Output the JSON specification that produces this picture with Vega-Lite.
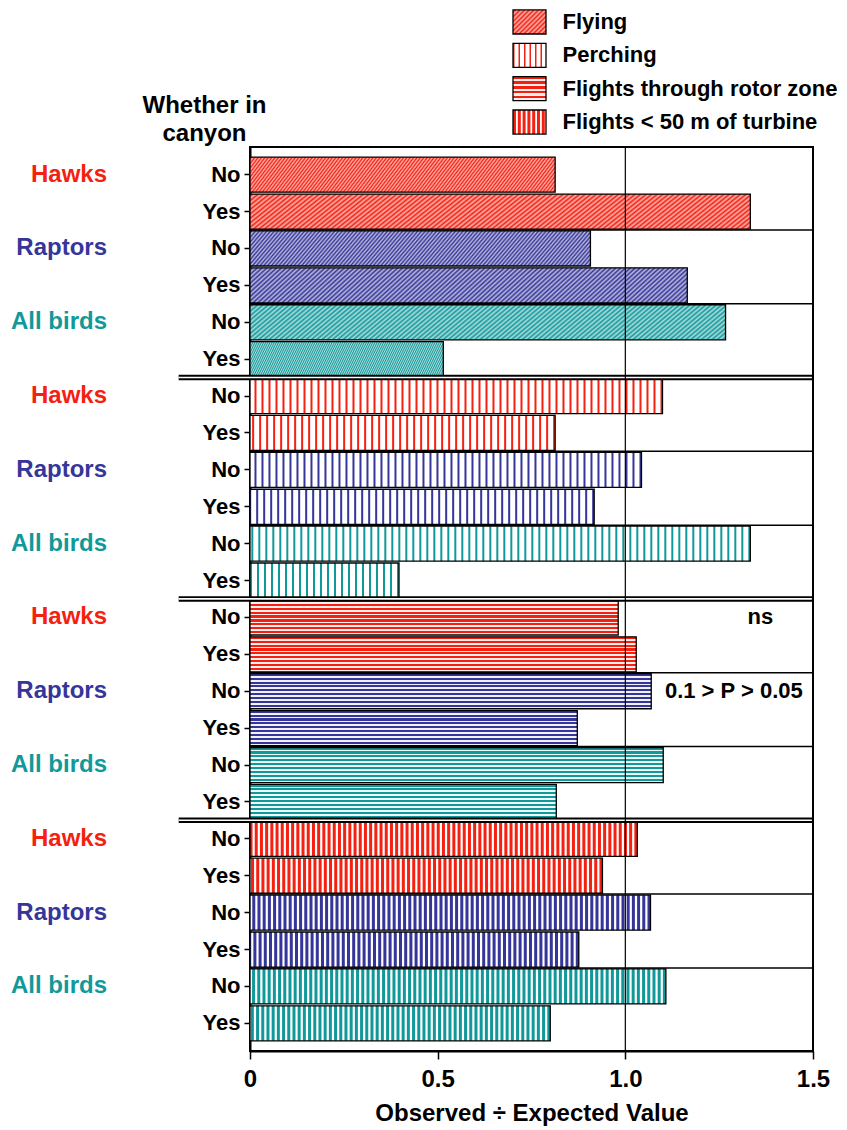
{
"$schema":"https://vega.github.io/schema/vega-lite/v6.json",
"width":563,"height":904,
"autosize":{"type":"none"},
"padding":{"left":250,"top":147,"right":34,"bottom":79},
"config":{"font":"Liberation Sans","view":{"stroke":"black","strokeWidth":2},"axis":{"grid":false}},
"datasets":{
"bars":[
{"key":"01|Hawks|No","beh":"F","group":"Hawks","canyon":"No","value":0.813},
{"key":"02|Hawks|Yes","beh":"F","group":"Hawks","canyon":"Yes","value":1.333},
{"key":"03|Raptors|No","beh":"F","group":"Raptors","canyon":"No","value":0.907},
{"key":"04|Raptors|Yes","beh":"F","group":"Raptors","canyon":"Yes","value":1.165},
{"key":"05|All birds|No","beh":"F","group":"All birds","canyon":"No","value":1.267},
{"key":"06|All birds|Yes","beh":"F","group":"All birds","canyon":"Yes","value":0.515},
{"key":"07|Hawks|No","beh":"P","group":"Hawks","canyon":"No","value":1.099},
{"key":"08|Hawks|Yes","beh":"P","group":"Hawks","canyon":"Yes","value":0.813},
{"key":"09|Raptors|No","beh":"P","group":"Raptors","canyon":"No","value":1.043},
{"key":"10|Raptors|Yes","beh":"P","group":"Raptors","canyon":"Yes","value":0.917},
{"key":"11|All birds|No","beh":"P","group":"All birds","canyon":"No","value":1.333},
{"key":"12|All birds|Yes","beh":"P","group":"All birds","canyon":"Yes","value":0.397},
{"key":"13|Hawks|No","beh":"R","group":"Hawks","canyon":"No","value":0.981},
{"key":"14|Hawks|Yes","beh":"R","group":"Hawks","canyon":"Yes","value":1.029},
{"key":"15|Raptors|No","beh":"R","group":"Raptors","canyon":"No","value":1.069},
{"key":"16|Raptors|Yes","beh":"R","group":"Raptors","canyon":"Yes","value":0.872},
{"key":"17|All birds|No","beh":"R","group":"All birds","canyon":"No","value":1.101},
{"key":"18|All birds|Yes","beh":"R","group":"All birds","canyon":"Yes","value":0.816},
{"key":"19|Hawks|No","beh":"T","group":"Hawks","canyon":"No","value":1.032},
{"key":"20|Hawks|Yes","beh":"T","group":"Hawks","canyon":"Yes","value":0.939},
{"key":"21|Raptors|No","beh":"T","group":"Raptors","canyon":"No","value":1.067},
{"key":"22|Raptors|Yes","beh":"T","group":"Raptors","canyon":"Yes","value":0.876},
{"key":"23|All birds|No","beh":"T","group":"All birds","canyon":"No","value":1.108},
{"key":"24|All birds|Yes","beh":"T","group":"All birds","canyon":"Yes","value":0.8}
],
"seps":[
{"key":"03|Raptors|No","kind":"single"},{"key":"05|All birds|No","kind":"single"},
{"key":"09|Raptors|No","kind":"single"},{"key":"11|All birds|No","kind":"single"},
{"key":"15|Raptors|No","kind":"single"},{"key":"17|All birds|No","kind":"single"},
{"key":"21|Raptors|No","kind":"single"},{"key":"23|All birds|No","kind":"single"},
{"key":"07|Hawks|No","kind":"double"},{"key":"13|Hawks|No","kind":"double"},{"key":"19|Hawks|No","kind":"double"}
],
"notes":[
{"key":"13|Hawks|No","x":1.36,"label":"ns"},
{"key":"15|Raptors|No","x":1.289,"label":"0.1 > P > 0.05"}
],
"legend":[
{"code":"F","label":"Flying"},
{"code":"P","label":"Perching"},
{"code":"R","label":"Flights through rotor zone"},
{"code":"T","label":"Flights < 50 m of turbine"}
]
},
"resolve":{"scale":{"x":"independent","y":"independent"}},
"layer":[
{
"layer":[
{"data":{"name":"bars"},"mark":{"type":"bar"},
"encoding":{
"y":{"field":"key","type":"nominal","scale":{"paddingInner":0.05,"paddingOuter":0.275},
"axis":{"title":["Whether in","canyon"],"titleAngle":0,"titleAlign":"center","titleBaseline":"alphabetic","titleX":-46,"titleY":-35,"titleFontSize":24,"titleFontWeight":"bold","titleLineHeight":28,"titleColor":"black",
"labelExpr":"split(datum.value,'|')[2]","labelFontSize":22,"labelFontWeight":"bold","labelColor":"black","labelPadding":4,"tickSize":6,"tickColor":"black","tickWidth":1.5,"domainColor":"black","domainWidth":2}},
"x":{"field":"value","type":"quantitative","scale":{"domain":[0,1.5],"nice":false},
"axis":{"title":"Observed ÷ Expected Value","values":[0,0.5,1,1.5],"labelExpr":"datum.value==0?'0':format(datum.value,'.1f')","labelFontSize":24,"labelFontWeight":"bold","labelColor":"black","labelPadding":8,"labelFlush":false,"labelOverlap":false,"tickSize":8,"tickColor":"black","tickWidth":1.5,"domainColor":"black","domainWidth":2,"titleFontSize":24,"titleFontWeight":"bold","titleColor":"black","titlePadding":10}},
"fill":{"condition":{"test":"datum.beh=='P'||datum.beh=='T'","value":"white"},"field":"group","type":"nominal","scale":{"domain":["Hawks","Raptors","All birds"],"range":["#f52010","#35359a","#11999a"]},"legend":null}
}},
{"data":{"name":"bars"},"transform":[{"filter":"datum.beh=='F'"}],
"mark":{"type":"bar","fill":{"gradient":"linear","x1":0,"y1":0,"x2":1.1,"y2":0.09625,"stops":[
{"offset":0,"color":"#fffa"},{"offset":0.005,"color":"#fff0"},{"offset":0.01,"color":"#fffa"},{"offset":0.015,"color":"#fff0"},{"offset":0.02,"color":"#fffa"},{"offset":0.025,"color":"#fff0"},{"offset":0.03,"color":"#fffa"},{"offset":0.035,"color":"#fff0"},{"offset":0.04,"color":"#fffa"},{"offset":0.045,"color":"#fff0"},
{"offset":0.05,"color":"#fffa"},{"offset":0.055,"color":"#fff0"},{"offset":0.06,"color":"#fffa"},{"offset":0.065,"color":"#fff0"},{"offset":0.07,"color":"#fffa"},{"offset":0.075,"color":"#fff0"},{"offset":0.08,"color":"#fffa"},{"offset":0.085,"color":"#fff0"},{"offset":0.09,"color":"#fffa"},{"offset":0.095,"color":"#fff0"},
{"offset":0.1,"color":"#fffa"},{"offset":0.105,"color":"#fff0"},{"offset":0.11,"color":"#fffa"},{"offset":0.115,"color":"#fff0"},{"offset":0.12,"color":"#fffa"},{"offset":0.125,"color":"#fff0"},{"offset":0.13,"color":"#fffa"},{"offset":0.135,"color":"#fff0"},{"offset":0.14,"color":"#fffa"},{"offset":0.145,"color":"#fff0"},
{"offset":0.15,"color":"#fffa"},{"offset":0.155,"color":"#fff0"},{"offset":0.16,"color":"#fffa"},{"offset":0.165,"color":"#fff0"},{"offset":0.17,"color":"#fffa"},{"offset":0.175,"color":"#fff0"},{"offset":0.18,"color":"#fffa"},{"offset":0.185,"color":"#fff0"},{"offset":0.19,"color":"#fffa"},{"offset":0.195,"color":"#fff0"},
{"offset":0.2,"color":"#fffa"},{"offset":0.205,"color":"#fff0"},{"offset":0.21,"color":"#fffa"},{"offset":0.215,"color":"#fff0"},{"offset":0.22,"color":"#fffa"},{"offset":0.225,"color":"#fff0"},{"offset":0.23,"color":"#fffa"},{"offset":0.235,"color":"#fff0"},{"offset":0.24,"color":"#fffa"},{"offset":0.245,"color":"#fff0"},
{"offset":0.25,"color":"#fffa"},{"offset":0.255,"color":"#fff0"},{"offset":0.26,"color":"#fffa"},{"offset":0.265,"color":"#fff0"},{"offset":0.27,"color":"#fffa"},{"offset":0.275,"color":"#fff0"},{"offset":0.28,"color":"#fffa"},{"offset":0.285,"color":"#fff0"},{"offset":0.29,"color":"#fffa"},{"offset":0.295,"color":"#fff0"},
{"offset":0.3,"color":"#fffa"},{"offset":0.305,"color":"#fff0"},{"offset":0.31,"color":"#fffa"},{"offset":0.315,"color":"#fff0"},{"offset":0.32,"color":"#fffa"},{"offset":0.325,"color":"#fff0"},{"offset":0.33,"color":"#fffa"},{"offset":0.335,"color":"#fff0"},{"offset":0.34,"color":"#fffa"},{"offset":0.345,"color":"#fff0"},
{"offset":0.35,"color":"#fffa"},{"offset":0.355,"color":"#fff0"},{"offset":0.36,"color":"#fffa"},{"offset":0.365,"color":"#fff0"},{"offset":0.37,"color":"#fffa"},{"offset":0.375,"color":"#fff0"},{"offset":0.38,"color":"#fffa"},{"offset":0.385,"color":"#fff0"},{"offset":0.39,"color":"#fffa"},{"offset":0.395,"color":"#fff0"},
{"offset":0.4,"color":"#fffa"},{"offset":0.405,"color":"#fff0"},{"offset":0.41,"color":"#fffa"},{"offset":0.415,"color":"#fff0"},{"offset":0.42,"color":"#fffa"},{"offset":0.425,"color":"#fff0"},{"offset":0.43,"color":"#fffa"},{"offset":0.435,"color":"#fff0"},{"offset":0.44,"color":"#fffa"},{"offset":0.445,"color":"#fff0"},
{"offset":0.45,"color":"#fffa"},{"offset":0.455,"color":"#fff0"},{"offset":0.46,"color":"#fffa"},{"offset":0.465,"color":"#fff0"},{"offset":0.47,"color":"#fffa"},{"offset":0.475,"color":"#fff0"},{"offset":0.48,"color":"#fffa"},{"offset":0.485,"color":"#fff0"},{"offset":0.49,"color":"#fffa"},{"offset":0.495,"color":"#fff0"},
{"offset":0.5,"color":"#fffa"},{"offset":0.505,"color":"#fff0"},{"offset":0.51,"color":"#fffa"},{"offset":0.515,"color":"#fff0"},{"offset":0.52,"color":"#fffa"},{"offset":0.525,"color":"#fff0"},{"offset":0.53,"color":"#fffa"},{"offset":0.535,"color":"#fff0"},{"offset":0.54,"color":"#fffa"},{"offset":0.545,"color":"#fff0"},
{"offset":0.55,"color":"#fffa"},{"offset":0.555,"color":"#fff0"},{"offset":0.56,"color":"#fffa"},{"offset":0.565,"color":"#fff0"},{"offset":0.57,"color":"#fffa"},{"offset":0.575,"color":"#fff0"},{"offset":0.58,"color":"#fffa"},{"offset":0.585,"color":"#fff0"},{"offset":0.59,"color":"#fffa"},{"offset":0.595,"color":"#fff0"},
{"offset":0.6,"color":"#fffa"},{"offset":0.605,"color":"#fff0"},{"offset":0.61,"color":"#fffa"},{"offset":0.615,"color":"#fff0"},{"offset":0.62,"color":"#fffa"},{"offset":0.625,"color":"#fff0"},{"offset":0.63,"color":"#fffa"},{"offset":0.635,"color":"#fff0"},{"offset":0.64,"color":"#fffa"},{"offset":0.645,"color":"#fff0"},
{"offset":0.65,"color":"#fffa"},{"offset":0.655,"color":"#fff0"},{"offset":0.66,"color":"#fffa"},{"offset":0.665,"color":"#fff0"},{"offset":0.67,"color":"#fffa"},{"offset":0.675,"color":"#fff0"},{"offset":0.68,"color":"#fffa"},{"offset":0.685,"color":"#fff0"},{"offset":0.69,"color":"#fffa"},{"offset":0.695,"color":"#fff0"},
{"offset":0.7,"color":"#fffa"},{"offset":0.705,"color":"#fff0"},{"offset":0.71,"color":"#fffa"},{"offset":0.715,"color":"#fff0"},{"offset":0.72,"color":"#fffa"},{"offset":0.725,"color":"#fff0"},{"offset":0.73,"color":"#fffa"},{"offset":0.735,"color":"#fff0"},{"offset":0.74,"color":"#fffa"},{"offset":0.745,"color":"#fff0"},
{"offset":0.75,"color":"#fffa"},{"offset":0.755,"color":"#fff0"},{"offset":0.76,"color":"#fffa"},{"offset":0.765,"color":"#fff0"},{"offset":0.77,"color":"#fffa"},{"offset":0.775,"color":"#fff0"},{"offset":0.78,"color":"#fffa"},{"offset":0.785,"color":"#fff0"},{"offset":0.79,"color":"#fffa"},{"offset":0.795,"color":"#fff0"},
{"offset":0.8,"color":"#fffa"},{"offset":0.805,"color":"#fff0"},{"offset":0.81,"color":"#fffa"},{"offset":0.815,"color":"#fff0"},{"offset":0.82,"color":"#fffa"},{"offset":0.825,"color":"#fff0"},{"offset":0.83,"color":"#fffa"},{"offset":0.835,"color":"#fff0"},{"offset":0.84,"color":"#fffa"},{"offset":0.845,"color":"#fff0"},
{"offset":0.85,"color":"#fffa"},{"offset":0.855,"color":"#fff0"},{"offset":0.86,"color":"#fffa"},{"offset":0.865,"color":"#fff0"},{"offset":0.87,"color":"#fffa"},{"offset":0.875,"color":"#fff0"},{"offset":0.88,"color":"#fffa"},{"offset":0.885,"color":"#fff0"},{"offset":0.89,"color":"#fffa"},{"offset":0.895,"color":"#fff0"},
{"offset":0.9,"color":"#fffa"},{"offset":0.905,"color":"#fff0"},{"offset":0.91,"color":"#fffa"},{"offset":0.915,"color":"#fff0"},{"offset":0.92,"color":"#fffa"},{"offset":0.925,"color":"#fff0"},{"offset":0.93,"color":"#fffa"},{"offset":0.935,"color":"#fff0"},{"offset":0.94,"color":"#fffa"},{"offset":0.945,"color":"#fff0"},
{"offset":0.95,"color":"#fffa"},{"offset":0.955,"color":"#fff0"},{"offset":0.96,"color":"#fffa"},{"offset":0.965,"color":"#fff0"},{"offset":0.97,"color":"#fffa"},{"offset":0.975,"color":"#fff0"},{"offset":0.98,"color":"#fffa"},{"offset":0.985,"color":"#fff0"},{"offset":0.99,"color":"#fffa"},{"offset":0.995,"color":"#fff0"},
{"offset":1,"color":"#fffa"}]}},
"encoding":{"y":{"field":"key","type":"nominal"},"x":{"field":"value","type":"quantitative"}}},
{"data":{"name":"bars"},"transform":[{"filter":"datum.beh=='R'"}],
"mark":{"type":"bar","fill":{"gradient":"linear","x1":0,"y1":0,"x2":0,"y2":1,"stops":[
{"offset":0,"color":"#fff0"},{"offset":0.06,"color":"#fff0"},{"offset":0.06,"color":"#fffe"},{"offset":0.111,"color":"#fffe"},
{"offset":0.111,"color":"#fff0"},{"offset":0.171,"color":"#fff0"},{"offset":0.171,"color":"#fffe"},{"offset":0.222,"color":"#fffe"},
{"offset":0.222,"color":"#fff0"},{"offset":0.282,"color":"#fff0"},{"offset":0.282,"color":"#fffe"},{"offset":0.333,"color":"#fffe"},
{"offset":0.333,"color":"#fff0"},{"offset":0.393,"color":"#fff0"},{"offset":0.393,"color":"#fffe"},{"offset":0.444,"color":"#fffe"},
{"offset":0.444,"color":"#fff0"},{"offset":0.504,"color":"#fff0"},{"offset":0.504,"color":"#fffe"},{"offset":0.556,"color":"#fffe"},
{"offset":0.556,"color":"#fff0"},{"offset":0.616,"color":"#fff0"},{"offset":0.616,"color":"#fffe"},{"offset":0.667,"color":"#fffe"},
{"offset":0.667,"color":"#fff0"},{"offset":0.727,"color":"#fff0"},{"offset":0.727,"color":"#fffe"},{"offset":0.778,"color":"#fffe"},
{"offset":0.778,"color":"#fff0"},{"offset":0.838,"color":"#fff0"},{"offset":0.838,"color":"#fffe"},{"offset":0.889,"color":"#fffe"},
{"offset":0.889,"color":"#fff0"},{"offset":0.949,"color":"#fff0"},{"offset":0.949,"color":"#fffe"},{"offset":1,"color":"#fffe"}]}},
"encoding":{"y":{"field":"key","type":"nominal"},"x":{"field":"value","type":"quantitative"}}},
{"data":{"name":"bars"},"transform":[{"filter":"datum.beh=='P'"}],
"mark":{"type":"rule","strokeWidth":35,"strokeDash":[2,5],"strokeCap":"butt"},
"encoding":{"y":{"field":"key","type":"nominal"},"x":{"field":"value","type":"quantitative"},"x2":{"datum":0},
"stroke":{"field":"group","type":"nominal","scale":{"domain":["Hawks","Raptors","All birds"],"range":["#f52010","#35359a","#11999a"]},"legend":null}}},
{"data":{"name":"bars"},"transform":[{"filter":"datum.beh=='T'"}],
"mark":{"type":"rule","strokeWidth":35,"strokeDash":[3,2.2],"strokeCap":"butt"},
"encoding":{"y":{"field":"key","type":"nominal"},"x":{"field":"value","type":"quantitative"},"x2":{"datum":0},
"stroke":{"field":"group","type":"nominal","scale":{"domain":["Hawks","Raptors","All birds"],"range":["#f52010","#35359a","#11999a"]},"legend":null}}},
{"data":{"name":"bars"},"mark":{"type":"bar","fillOpacity":0,"stroke":"black","strokeWidth":1.3},
"encoding":{"y":{"field":"key","type":"nominal"},"x":{"field":"value","type":"quantitative"}}},
{"data":{"name":"seps"},"transform":[{"filter":"datum.kind=='single'"}],
"mark":{"type":"rule","color":"black","strokeWidth":1.5,"yOffset":-1},
"encoding":{"y":{"field":"key","type":"nominal","bandPosition":0}}},
{"data":{"name":"seps"},"transform":[{"filter":"datum.kind=='double'"}],
"mark":{"type":"rule","color":"black","strokeWidth":5.5,"yOffset":-1},
"encoding":{"y":{"field":"key","type":"nominal","bandPosition":0},"x":{"datum":-0.19,"type":"quantitative"},"x2":{"datum":1.5}}},
{"data":{"name":"seps"},"transform":[{"filter":"datum.kind=='double'"}],
"mark":{"type":"rule","color":"white","strokeWidth":1.6,"yOffset":-1},
"encoding":{"y":{"field":"key","type":"nominal","bandPosition":0},"x":{"datum":-0.19,"type":"quantitative"},"x2":{"datum":1.497}}},
{"data":{"values":[{}]},"mark":{"type":"rule","color":"black","strokeWidth":1.2},
"encoding":{"x":{"datum":1,"type":"quantitative"}}},
{"data":{"name":"bars"},"transform":[{"filter":"datum.canyon=='No'"}],
"mark":{"type":"text","align":"right","baseline":"middle","fontSize":24,"fontWeight":"bold"},
"encoding":{"y":{"field":"key","type":"nominal"},"x":{"datum":-0.381,"type":"quantitative"},"text":{"field":"group"},
"color":{"field":"group","type":"nominal","scale":{"domain":["Hawks","Raptors","All birds"],"range":["#f52010","#35359a","#11999a"]},"legend":null}}},
{"data":{"name":"notes"},
"mark":{"type":"text","align":"center","baseline":"middle","fontSize":22,"fontWeight":"bold","color":"black"},
"encoding":{"y":{"field":"key","type":"nominal"},"x":{"field":"x","type":"quantitative"},"text":{"field":"label"}}}
]
},
{
"data":{"name":"legend"},
"encoding":{
"y":{"field":"label","type":"nominal","sort":null,"scale":{"domain":["Flying","Perching","Flights through rotor zone","Flights < 50 m of turbine"],"range":[-141.7,-8.3],"paddingInner":0.28,"paddingOuter":0.14},"axis":null}
},
"layer":[
{"mark":{"type":"rect"},
"encoding":{"x":{"datum":0,"type":"quantitative","scale":{"domain":[0,10],"range":[263,593]},"axis":null},"x2":{"datum":1},
"fill":{"condition":{"test":"datum.code=='F'||datum.code=='R'","value":"#f52010"},"value":"white"}}},
{"transform":[{"filter":"datum.code=='F'"}],
"mark":{"type":"rect","fill":{"gradient":"linear","x1":0,"y1":0,"x2":1.15,"y2":0.836,"stops":[
{"offset":0,"color":"#fffa"},{"offset":0.04,"color":"#fff0"},{"offset":0.08,"color":"#fffa"},{"offset":0.12,"color":"#fff0"},{"offset":0.16,"color":"#fffa"},{"offset":0.2,"color":"#fff0"},{"offset":0.24,"color":"#fffa"},{"offset":0.28,"color":"#fff0"},{"offset":0.32,"color":"#fffa"},{"offset":0.36,"color":"#fff0"},{"offset":0.4,"color":"#fffa"},{"offset":0.44,"color":"#fff0"},{"offset":0.48,"color":"#fffa"},{"offset":0.52,"color":"#fff0"},{"offset":0.56,"color":"#fffa"},{"offset":0.6,"color":"#fff0"},{"offset":0.64,"color":"#fffa"},{"offset":0.68,"color":"#fff0"},{"offset":0.72,"color":"#fffa"},{"offset":0.76,"color":"#fff0"},{"offset":0.8,"color":"#fffa"},{"offset":0.84,"color":"#fff0"},{"offset":0.88,"color":"#fffa"},{"offset":0.92,"color":"#fff0"},{"offset":0.96,"color":"#fffa"},{"offset":1,"color":"#fff0"}]}},
"encoding":{"x":{"datum":0,"type":"quantitative","axis":null},"x2":{"datum":1}}},
{"transform":[{"filter":"datum.code=='R'"}],
"mark":{"type":"rect","fill":{"gradient":"linear","x1":0,"y1":0,"x2":0,"y2":1,"stops":[
{"offset":0,"color":"#fff0"},{"offset":0.1,"color":"#fff0"},{"offset":0.1,"color":"#fffe"},{"offset":0.2,"color":"#fffe"},
{"offset":0.2,"color":"#fff0"},{"offset":0.3,"color":"#fff0"},{"offset":0.3,"color":"#fffe"},{"offset":0.4,"color":"#fffe"},
{"offset":0.4,"color":"#fff0"},{"offset":0.5,"color":"#fff0"},{"offset":0.5,"color":"#fffe"},{"offset":0.6,"color":"#fffe"},
{"offset":0.6,"color":"#fff0"},{"offset":0.7,"color":"#fff0"},{"offset":0.7,"color":"#fffe"},{"offset":0.8,"color":"#fffe"},
{"offset":0.8,"color":"#fff0"},{"offset":0.9,"color":"#fff0"},{"offset":0.9,"color":"#fffe"},{"offset":1,"color":"#fffe"}]}},
"encoding":{"x":{"datum":0,"type":"quantitative","axis":null},"x2":{"datum":1}}},
{"transform":[{"filter":"datum.code=='P'"}],
"mark":{"type":"rule","strokeWidth":24,"strokeDash":[1.5,4],"strokeCap":"butt","stroke":"#f52010"},
"encoding":{"x":{"datum":0,"type":"quantitative","axis":null},"x2":{"datum":1}}},
{"transform":[{"filter":"datum.code=='T'"}],
"mark":{"type":"rule","strokeWidth":24,"strokeDash":[3,1.8],"strokeCap":"butt","stroke":"#f52010"},
"encoding":{"x":{"datum":0,"type":"quantitative","axis":null},"x2":{"datum":1}}},
{"mark":{"type":"rect","fillOpacity":0,"stroke":"black","strokeWidth":1.3},
"encoding":{"x":{"datum":0,"type":"quantitative","axis":null},"x2":{"datum":1}}},
{"mark":{"type":"text","align":"left","baseline":"middle","fontSize":22,"fontWeight":"bold","color":"black"},
"encoding":{"x":{"datum":1.5,"type":"quantitative","axis":null},"text":{"field":"label"}}}
]
}
]
}
